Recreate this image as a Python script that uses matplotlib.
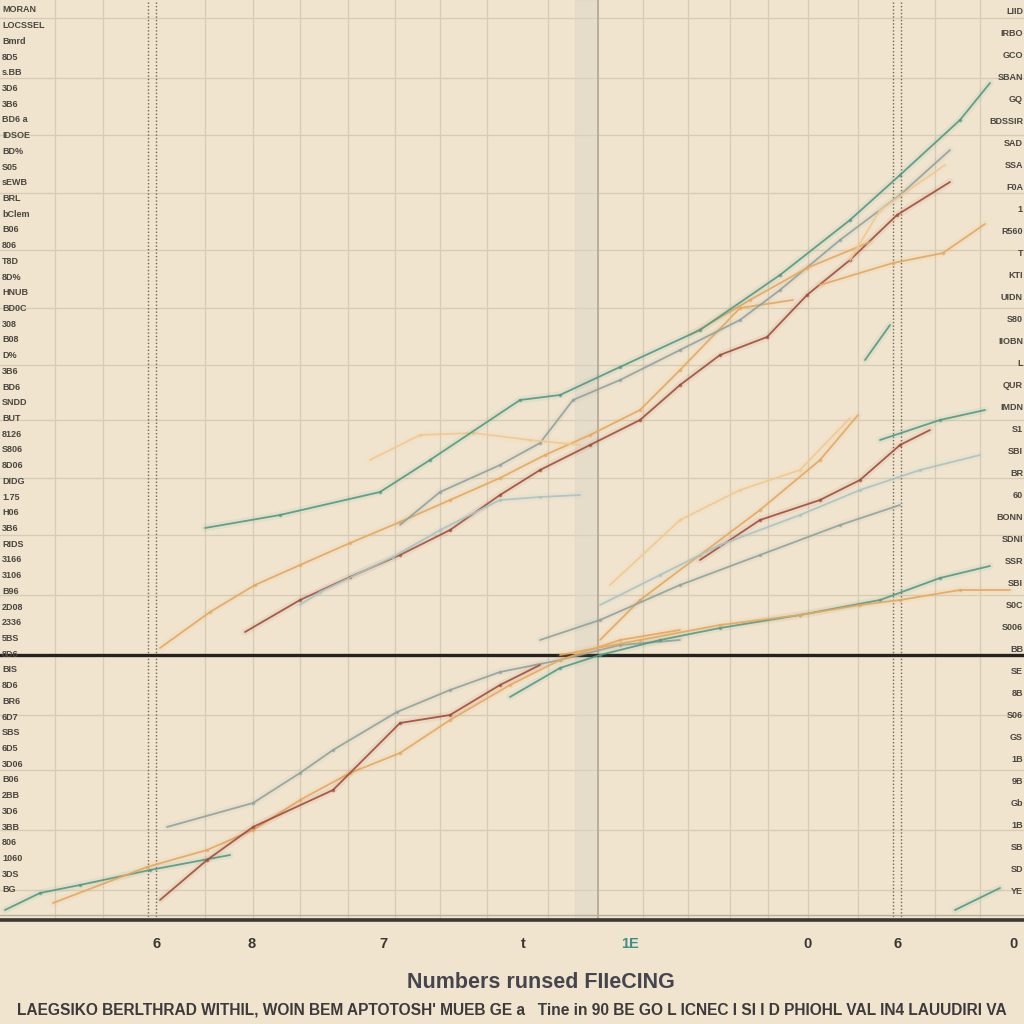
import numpy as np
import matplotlib
matplotlib.use("Agg")
import matplotlib.pyplot as plt

# ------------------------------
# Data (x in column units, y in value units)
# ------------------------------
TEAL_A_X = [20.5, 28, 38, 43, 52, 56, 62, 70, 78, 85, 90, 96, 99]
TEAL_A_Y = [39.2, 40.5, 42.8, 46, 52, 52.5, 55.3, 59, 64.5, 70, 74.5, 80, 83.7]

ORANGE_B_X = [16, 21, 25.5, 30, 35, 40, 45, 50, 54.5, 59, 64, 68, 74, 79.3]
ORANGE_B_Y = [27.2, 30.8, 33.5, 35.5, 37.7, 39.8, 42, 44.2, 46.5, 48.5, 51, 55, 61.2, 62]

ORANGE_O2_X = [69, 75, 80.7, 87]
ORANGE_O2_Y = [58.5, 62, 65.2, 67.8]
ORANGE_O3_X = [82, 89.3, 94.3, 98.5]
ORANGE_O3_Y = [63.5, 65.7, 66.7, 69.6]
ORANGE_O4_X = [85, 88, 94.5]
ORANGE_O4_Y = [66, 71, 75.5]

BROWN_C_X = [24.5, 30, 35, 40, 45, 50, 54, 59, 64, 68, 72, 76.7, 80.7, 85, 89.7, 95]
BROWN_C_Y = [28.8, 32, 34.3, 36.5, 39, 42.5, 45, 47.5, 50, 53.5, 56.5, 58.3, 62.5, 66, 70.5, 73.8]

GREY_D_X = [30, 32, 39.3, 44, 50, 54, 58]
GREY_D_Y = [31.5, 32.8, 36.3, 39, 42, 42.3, 42.5]

TEAL_E_X = [40, 44, 50, 54, 57.3, 62, 68, 74, 78, 84, 90, 95]
TEAL_E_Y = [39.5, 42.8, 45.5, 47.7, 52, 54, 57, 60, 63, 68, 72.5, 77]

FAINT_F_X = [37, 42, 47.3, 53, 58]
FAINT_F_Y = [46, 48.5, 48.7, 48, 47.5]

# lower panel
L1_X = [0.5, 4, 8, 15, 23]
L1_Y = [1, 2.7, 3.5, 5, 6.5]
L2_X = [16.7, 25.3, 30, 33.3, 39.7, 45, 50, 56, 62, 68]
L2_Y = [9.3, 11.7, 14.7, 17, 20.8, 23, 24.8, 26, 27.5, 28]
L3_X = [5.3, 14.7, 20.7, 25.3, 30, 35, 40, 45, 51, 56, 62, 68]
L3_Y = [1.7, 5.3, 7, 9, 12, 14.7, 16.7, 20, 23.5, 26, 28, 29]
L4_X = [16, 20.7, 25.3, 33.3, 40, 45, 50, 54]
L4_Y = [2, 6, 9.3, 13, 19.7, 20.5, 23.5, 25.5]
L5_X = [51, 56, 60, 66, 72, 80, 88, 94, 99]
L5_Y = [22.3, 25.2, 26.5, 28, 29.2, 30.5, 32, 34.2, 35.4]

R1_X = [60, 64, 70, 76, 82, 85.8]
R1_Y = [28, 32, 36.5, 41, 46, 50.5]
R2_X = [70, 76, 82, 86, 90, 93]
R2_Y = [36, 40, 42, 44, 47.5, 49]
R3_X = [60, 66, 72, 80, 86, 92, 98]
R3_Y = [31.5, 34.5, 37.5, 40.5, 43, 45, 46.5]
R4_X = [54, 60, 68, 76, 84, 90]
R4_Y = [28, 30, 33.5, 36.5, 39.5, 41.5]
R5_X = [56, 64, 72, 80, 86, 90, 96, 101]
R5_Y = [26.5, 28, 29.5, 30.5, 31.5, 32, 33, 33]
R6_X = [88, 94, 98.5]
R6_Y = [48, 50, 51]
R7_X = [61, 68, 74, 80, 85]
R7_Y = [33.5, 40, 43, 45, 50.2]
SHORT_X = [86.5, 89]
SHORT_Y = [56, 59.5]
CORNER_X = [95.5, 100]
CORNER_Y = [1, 3.2]

GRID_X = [5.5, 10.3, 20.5, 25.3, 30, 34.8, 39.5, 44, 48.7, 54.8, 64.3, 68.8, 73, 76.8, 80.8, 85.8, 93.5, 98]
GRID_Y = [3, 9, 15, 20.5, 32.5, 38.5, 44.2, 50, 55.5, 61.2, 67, 72.7, 78.5, 84.2, 90.2]
DOTTED_X = [14.8, 15.6, 89.3, 90.1]
BAND_X = 59.8
BLACK_Y = 26.5

X_TICK_POS = [15.7, 25.2, 38.3, 52.3, 63.0, 80.8, 89.8, 101.4]
X_TICK_LAB = ["6", "8", "7", "t", "1E", "0", "6", "0"]

LEFT_LABELS = ["MORAN", "LOCSSEL", "Bmrd", "8D5", "s.BB", "3D6", "3B6", "BD6 a", "IDSOE",
               "BD%", "S05", "sEWB", "BRL", "bClem", "B06", "806", "T8D", "8D%", "HNUB",
               "BD0C", "308", "B08", "D%", "3B6", "BD6", "SNDD", "BUT", "8126", "S806",
               "8D06", "DIDG", "1.75", "H06", "3B6", "RIDS", "3166", "3106", "B96", "2D08",
               "2336", "5BS", "8D6", "BIS", "8D6", "BR6", "6D7", "SBS", "6D5", "3D06",
               "B06", "2BB", "3D6", "3BB", "806", "1060", "3DS", "BG"]
RIGHT_LABELS = ["LIID", "IRBO", "GCO", "SBAN", "GQ", "BDSSIR", "SAD", "SSA", "F0A", "1",
                "R560", "T", "KTI", "UIDN", "S80", "IIOBN", "L", "QUR", "IMDN", "S1",
                "SBI", "BR", "60", "BONN", "SDNI", "SSR", "SBI", "S0C", "S006", "BB",
                "SE", "8B", "S06", "GS", "1B", "9B", "Gb", "1B", "SB", "SD", "YE"]

TITLE = "Numbers runsed FIIeCING"
FOOTER = ("LAEGSIKO BERLTHRAD WITHIL, WOIN BEM APTOTOSH' MUEB GE a   Tine in 90 BE GO "
          "L ICNEC I SI I D PHIOHL VAL IN4 LAUUDIRI VA")

# ------------------------------
# Style
# ------------------------------
BG = "#f0e4ce"
GRID = "#d6cbb4"
TEAL = "#4f9a85"
ORANGE = "#e6a85e"
BROWN = "#a24b3a"
GREY = "#8fa29d"
PALE = "#a9c3c4"
FONT = ["Liberation Sans", "DejaVu Sans"]


def draw_series(ax, xs, ys, color, lw=1.3, alpha=0.9):
    # soft halo underneath like the smudged original
    ax.plot(xs, ys, color=color, lw=lw * 4, alpha=0.08, solid_capstyle="round")
    ax.plot(xs, ys, color=color, lw=lw, alpha=alpha, solid_capstyle="round")
    ax.plot(xs[1:-1], ys[1:-1], "o", ms=1.6, color=color, alpha=0.6)


fig = plt.figure(figsize=(10.24, 10.24), dpi=100, facecolor=BG)
ax = fig.add_axes([0, 1 - 920 / 1024, 1, 920 / 1024])
ax.set_facecolor(BG)
ax.set_xlim(0, 102.4)
ax.set_ylim(0, 92)

for gx in GRID_X:
    ax.axvline(gx, color=GRID, lw=0.9, zorder=0)
for gy in GRID_Y:
    ax.axhline(gy, color=GRID, lw=0.9, zorder=0)
for dx in DOTTED_X:
    ax.axvline(dx, color="#6e6558", lw=1.0, ls=(0, (1, 1.5)), zorder=0)
ax.axvspan(BAND_X - 2.3, BAND_X, color="#dcd5c5", alpha=0.5, zorder=0)
ax.axvline(BAND_X, color="#b8ae9c", lw=1.4, zorder=0)
ax.axhline(BLACK_Y, color="#25221f", lw=2.4, zorder=1)
ax.axhline(0.5, color="#b9ad98", lw=1.0, zorder=1)

series = [
    (ORANGE_B_X, ORANGE_B_Y, ORANGE), (BROWN_C_X, BROWN_C_Y, BROWN),
    (GREY_D_X, GREY_D_Y, PALE), (TEAL_E_X, TEAL_E_Y, GREY),
    (FAINT_F_X, FAINT_F_Y, "#f0c98e"), (ORANGE_O2_X, ORANGE_O2_Y, ORANGE),
    (ORANGE_O3_X, ORANGE_O3_Y, ORANGE), (ORANGE_O4_X, ORANGE_O4_Y, "#f0c98e"),
    (TEAL_A_X, TEAL_A_Y, TEAL),
    (L1_X, L1_Y, TEAL), (L2_X, L2_Y, GREY), (L3_X, L3_Y, ORANGE),
    (L4_X, L4_Y, BROWN), (L5_X, L5_Y, TEAL),
    (R1_X, R1_Y, ORANGE), (R2_X, R2_Y, BROWN), (R3_X, R3_Y, PALE),
    (R4_X, R4_Y, GREY), (R5_X, R5_Y, ORANGE), (R6_X, R6_Y, TEAL),
    (R7_X, R7_Y, "#f0c98e"), (SHORT_X, SHORT_Y, TEAL), (CORNER_X, CORNER_Y, TEAL),
]
for xs, ys, c in series:
    draw_series(ax, xs, ys, c)

for sp in ["top", "left", "right"]:
    ax.spines[sp].set_visible(False)
ax.spines["bottom"].set_color("#3b3733")
ax.spines["bottom"].set_linewidth(2.6)
ax.set_xticks([])
ax.set_yticks([])

# ------------------------------
# Texts
# ------------------------------
for i, lab in enumerate(LEFT_LABELS):
    py = 10 + i * (880 / (len(LEFT_LABELS) - 1))
    fig.text(0.002, 1 - py / 1024, lab, ha="left", va="center", fontsize=6.5,
             fontweight="bold", color="#4a4640", family=FONT)
for i, lab in enumerate(RIGHT_LABELS):
    py = 12 + i * (880 / (len(RIGHT_LABELS) - 1))
    fig.text(0.999, 1 - py / 1024, lab, ha="right", va="center", fontsize=6.5,
             fontweight="bold", color="#4a4640", family=FONT)

for xp, lab in zip(X_TICK_POS, X_TICK_LAB):
    col = "#3f8f86" if lab == "1E" else "#3a3632"
    fig.text(xp / 102.4, 1 - 944 / 1024, lab, ha="center", va="center", fontsize=10.5,
             fontweight="bold", color=col, family=FONT)

fig.text(0.528, 1 - 982 / 1024, TITLE, ha="center", va="center", fontsize=15.5,
         fontweight="bold", color="#45454f", family=FONT)
fig.text(0.5, 1 - 1010 / 1024, FOOTER, ha="center", va="center", fontsize=11.2,
         fontweight="bold", color="#3c3a3a", family=FONT)

fig.savefig("out.png", dpi=100, facecolor=BG)
plt.close(fig)
